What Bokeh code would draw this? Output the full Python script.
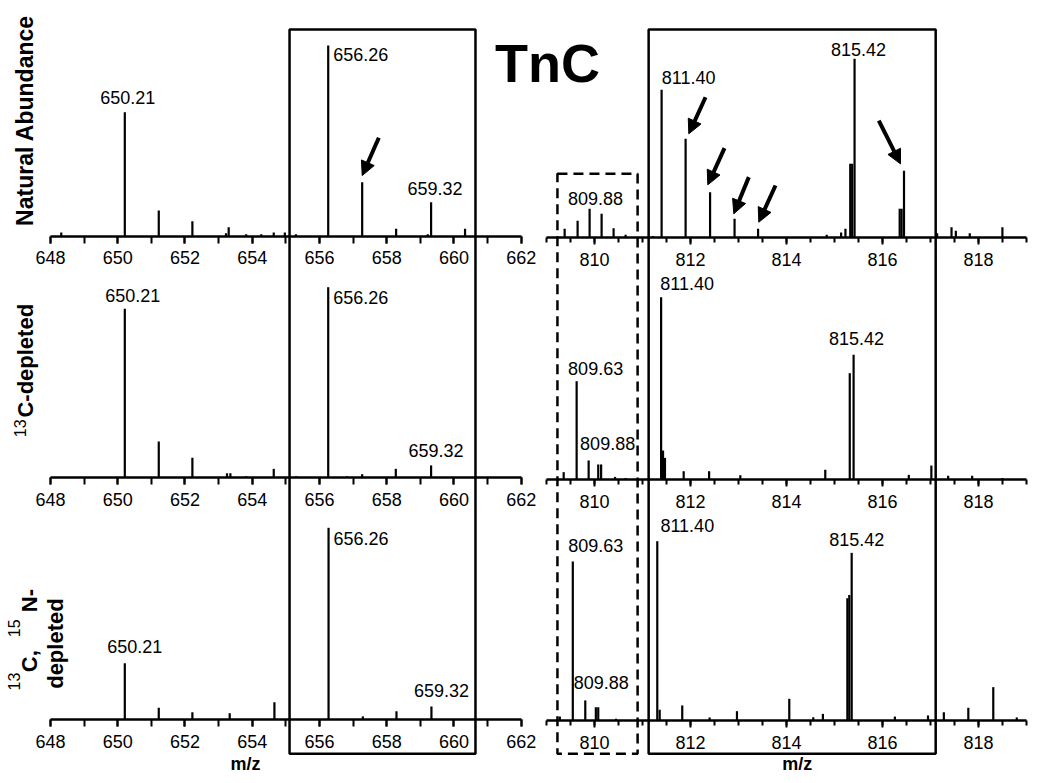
import math
from bokeh.plotting import figure
from bokeh.models import Range1d, LinearAxis, FixedTicker, ColumnDataSource, Arrow, NormalHead
from bokeh.core.properties import value
from bokeh.embed import file_html
from bokeh.resources import INLINE

# ---------------- data (m/z, relative intensity; tallest peak of each panel = 100) ----------------
TL_mz = [648.32, 650.21, 651.22, 652.22, 653.22, 653.30, 653.82, 654.27, 654.64, 654.97, 655.30,
         656.26, 657.27, 658.28, 659.22, 659.32, 660.33]
TL_int = [2.0, 65.0, 13.5, 7.9, 1.5, 4.7, 1.0, 1.0, 2.0, 2.0, 1.0,
          100.0, 28.3, 3.9, 1.0, 17.8, 3.9]

ML_mz = [650.21, 651.22, 652.22, 653.25, 653.35, 653.82, 654.64, 655.31, 656.26, 656.82, 657.27,
         658.27, 659.32]
ML_int = [88.7, 19.0, 10.5, 2.4, 2.4, 0.8, 4.7, 0.8, 100.0, 0.8, 1.9, 4.7, 6.5]

BL_mz = [650.21, 651.22, 652.22, 653.33, 654.66, 656.27, 657.29, 658.29, 659.33]
BL_int = [29.4, 6.1, 3.8, 3.3, 9.0, 100.0, 1.6, 4.3, 6.8]

TR_mz = [809.38, 809.65, 809.90, 810.15, 810.40, 810.65, 811.22, 811.40, 811.90, 812.41, 812.92,
         813.41, 814.84, 815.14, 815.23, 815.33, 815.37, 815.42, 816.36, 816.40, 816.45, 817.14,
         817.44, 817.53, 817.82, 818.50]
TR_int = [5.0, 9.5, 16.2, 13.4, 5.4, 1.7, 1.0, 82.7, 55.3, 25.5, 10.6,
          5.0, 1.7, 3.0, 5.0, 41.3, 41.3, 100.0, 16.2, 16.2, 37.4, 2.6,
          5.9, 4.0, 2.6, 5.9]

MR_mz = [809.36, 809.63, 809.88, 810.08, 810.14, 810.43, 810.65, 811.39, 811.43, 811.47, 811.86,
         812.39, 813.04, 814.81, 815.32, 815.40, 816.55, 817.02, 817.37, 817.87, 818.50]
MR_int = [4.2, 54.0, 10.6, 8.4, 8.4, 1.6, 1.0, 100.0, 16.0, 12.0, 4.7,
          4.7, 2.5, 5.5, 58.4, 68.5, 2.7, 7.8, 2.2, 2.2, 1.0]

BR_mz = [809.28, 809.55, 809.81, 810.03, 810.08, 810.45, 811.31, 811.36, 811.83, 812.40, 812.97,
         814.06, 814.56, 814.76, 815.27, 815.31, 815.36, 816.26, 816.95, 817.28, 817.79, 818.31, 818.80]
BR_int = [2.2, 88.7, 11.2, 7.4, 7.4, 1.0, 100.0, 6.0, 8.4, 1.7, 5.2,
          12.1, 1.8, 3.7, 68.2, 70.0, 93.5, 2.2, 2.8, 4.6, 7.1, 18.6, 1.7]

# peak labels: text, m/z and intensity of the labelled peak
TL_lab = ["650.21", "656.26", "659.32"]
TL_lab_mz = [650.21, 656.26, 659.32]
TL_lab_int = [65.0, 100.0, 17.8]
ML_lab = ["650.21", "656.26", "659.32"]
ML_lab_mz = [650.21, 656.26, 659.32]
ML_lab_int = [88.7, 100.0, 6.5]
BL_lab = ["650.21", "656.26", "659.32"]
BL_lab_mz = [650.21, 656.27, 659.33]
BL_lab_int = [29.4, 100.0, 6.8]
TR_lab = ["809.88", "811.40", "815.42"]
TR_lab_mz = [809.90, 811.40, 815.42]
TR_lab_int = [16.2, 82.7, 100.0]
MR_lab = ["809.63", "809.88", "811.40", "815.42"]
MR_lab_mz = [809.63, 809.88, 811.39, 815.40]
MR_lab_int = [54.0, 10.6, 100.0, 68.5]
BR_lab = ["809.63", "809.88", "811.40", "815.42"]
BR_lab_mz = [809.55, 809.81, 811.31, 815.36]
BR_lab_int = [88.7, 11.2, 100.0, 93.5]

# highlighted m/z windows
left_box = (655.11, 660.64)
right_box = (811.13, 817.11)
dashed_box = (809.23, 810.90)

# ---------------- layout ----------------
W, H = 1046, 780
FONT = "Liberation Sans"

def x_rng(v0, X0, v1, X1):
    s = (X1 - X0) / (v1 - v0)
    return Range1d(start=v0 - X0 / s, end=v0 + (W - X0) / s)

def y_rng(B, T):
    s = (B - T) / 100.0
    return Range1d(start=(B - H) / s, end=B / s)

p = figure(width=W, height=H, output_backend="svg", toolbar_location=None,
           x_axis_location=None, y_axis_location=None,
           x_range=Range1d(0, 1), y_range=Range1d(0, 1),
           min_border=0, min_border_left=0, min_border_right=0,
           min_border_top=0, min_border_bottom=0)
p.outline_line_color = None
p.background_fill_color = "white"
p.border_fill_color = "white"
p.xgrid.grid_line_color = None
p.ygrid.grid_line_color = None

p.extra_x_ranges = {"L": x_rng(648, 50, 662, 520.7), "R": x_rng(810, 593.9, 818, 977.9)}
# (column, baseline pixel, pixel of 100 %)
panels = {
    "TL": ("L", 235.7, 45.0), "ML": ("L", 477.3, 286.7), "BL": ("L", 719.0, 527.3),
    "TR": ("R", 237.3, 58.3), "MR": ("R", 479.3, 296.7), "BR": ("R", 720.0, 540.7),
}
p.extra_y_ranges = {k: y_rng(B, T) for k, (c, B, T) in panels.items()}

spectra = {
    "TL": (TL_mz, TL_int), "ML": (ML_mz, ML_int), "BL": (BL_mz, BL_int),
    "TR": (TR_mz, TR_int), "MR": (MR_mz, MR_int), "BR": (BR_mz, BR_int),
}
labels = {
    "TL": (TL_lab, TL_lab_mz, TL_lab_int, [3, 5, 4], [-15, 9, -14], ["center", "left", "center"]),
    "ML": (ML_lab, ML_lab_mz, ML_lab_int, [8, 5, 5], [-13, 10, -15], ["center", "left", "center"]),
    "BL": (BL_lab, BL_lab_mz, BL_lab_int, [10, 5, 10], [-17, 11, -16], ["center", "left", "center"]),
    "TR": (TR_lab, TR_lab_mz, TR_lab_int, [6, 27, 4], [-10, -12, -9], ["center"] * 3),
    "MR": (MR_lab, MR_lab_mz, MR_lab_int, [19, 19, 26, 3], [-13, -17, -14, -16], ["center"] * 4),
    "BR": (BR_lab, BR_lab_mz, BR_lab_int, [23, 16, 30, 5], [-16, -18, -16, -13], ["center"] * 4),
}

# boxes (drawn first)
p.quad(left=[left_box[0]], right=[left_box[1]], bottom=[-271.4], top=[108.4],
       fill_color=None, line_color="black", line_width=2.5, x_range_name="L", y_range_name="TL")
p.quad(left=[right_box[0]], right=[right_box[1]], bottom=[-288.3], top=[116.4],
       fill_color=None, line_color="black", line_width=2.5, x_range_name="R", y_range_name="TR")
p.quad(left=[dashed_box[0]], right=[dashed_box[1]], bottom=[-288.3], top=[35.8],
       fill_color=None, line_color="black", line_width=2.5, line_dash="10 6",
       x_range_name="R", y_range_name="TR")

for name, (col, B, T) in panels.items():
    mz, inten = spectra[name]
    src = ColumnDataSource(dict(x=mz, y0=[0] * len(mz), y1=inten))
    p.segment(x0="x", y0="y0", x1="x", y1="y1", source=src, line_color="black",
              line_width=2.2, x_range_name=col, y_range_name=name)

    ax = LinearAxis(x_range_name=col, y_range_name=name, fixed_location=0)
    if col == "L":
        ax.bounds = (648, 662)
        ax.ticker = FixedTicker(ticks=list(range(648, 663, 2)), minor_ticks=list(range(648, 663)))
        ax.minor_tick_out = 7
    else:
        ax.bounds = (809, 819)
        ax.ticker = FixedTicker(ticks=list(range(810, 819, 2)),
                                minor_ticks=[809 + 0.5 * i for i in range(21)])
        ax.minor_tick_out = 5
    ax.axis_line_width = 2.5
    ax.axis_line_color = "black"
    ax.major_tick_line_width = 2
    ax.minor_tick_line_width = 2
    ax.major_tick_line_color = "black"
    ax.minor_tick_line_color = "black"
    ax.major_tick_in = 0
    ax.minor_tick_in = 0
    ax.major_tick_out = 7
    ax.major_label_text_font = FONT
    ax.major_label_text_font_size = "18px"
    ax.major_label_text_color = "black"
    ax.major_label_standoff = 8
    p.add_layout(ax, "below")

    txt, lmz, lint, dx, dy, al = labels[name]
    lsrc = ColumnDataSource(dict(x=lmz, y=lint, t=txt, dx=dx, dy=dy, al=al))
    p.text(x="x", y="y", text="t", x_offset="dx", y_offset="dy", text_align="al",
           text_baseline="middle", source=lsrc, text_font=value(FONT),
           text_font_size="18px", text_color="black", x_range_name=col, y_range_name=name)

# arrows pointing at isotope peaks
arrow_sets = {
    "TL": ([657.765], [51.6], [657.271], [31.8]),
    "TR": ([812.315, 812.710, 813.217, 813.773, 815.925],
           [78.5, 50.1, 33.9, 29.2, 65.5],
           [811.967, 812.363, 812.904, 813.425, 816.377],
           [58.1, 29.6, 13.4, 8.7, 41.3]),
}
for name, (xs, ys, xe, ye) in arrow_sets.items():
    col = panels[name][0]
    asrc = ColumnDataSource(dict(xs=xs, ys=ys, xe=xe, ye=ye))
    p.add_layout(Arrow(x_start="xs", y_start="ys", x_end="xe", y_end="ye", source=asrc,
                       line_width=4, line_color="black",
                       end=NormalHead(size=14, fill_color="black", line_color="black", line_width=1),
                       x_range_name=col, y_range_name=name))

# title
p.text(x=[662.78], y=[90.8], text=["TnC"], text_align="center", text_baseline="middle",
       text_font=value(FONT), text_font_size="54px", text_font_style="bold",
       text_color="black", x_range_name="L", y_range_name="TL")

# row titles (rotated)
def rot(xv, yv, t, rng, size, style="bold", align="left"):
    p.text(x=[xv], y=[yv], text=[t], angle=math.pi / 2, text_align=align,
           text_baseline="middle", text_font=value(FONT), text_font_size=size,
           text_font_style=style, text_color="black", x_range_name="L", y_range_name=rng)

rot(647.256, 60.67, "Natural Abundance", "TL", "23px", align="center")
rot(647.256, 31.6, "C-depleted", "ML", "22px")
rot(647.078, 30.6, "13", "ML", "16px", style="normal", align="right")
rot(646.929, 15.13, "13", "BL", "16px", style="normal")
rot(647.361, 24.67, "C,", "BL", "22px")
rot(646.929, 42.93, "15", "BL", "16px", style="normal")
rot(647.361, 55.97, "N-", "BL", "22px")
rot(648.134, 16.01, "depleted", "BL", "22px")

# m/z axis titles
p.text(x=[653.80], y=[-23.1], text=["m/z"], text_align="center", text_baseline="middle",
       text_font=value(FONT), text_font_size="18px", text_font_style="bold",
       x_range_name="L", y_range_name="BL")
p.text(x=[814.225], y=[-24.0], text=["m/z"], text_align="center", text_baseline="middle",
       text_font=value(FONT), text_font_size="18px", text_font_style="bold",
       x_range_name="R", y_range_name="BR")

open("out.html", "w").write(file_html(p, INLINE))
